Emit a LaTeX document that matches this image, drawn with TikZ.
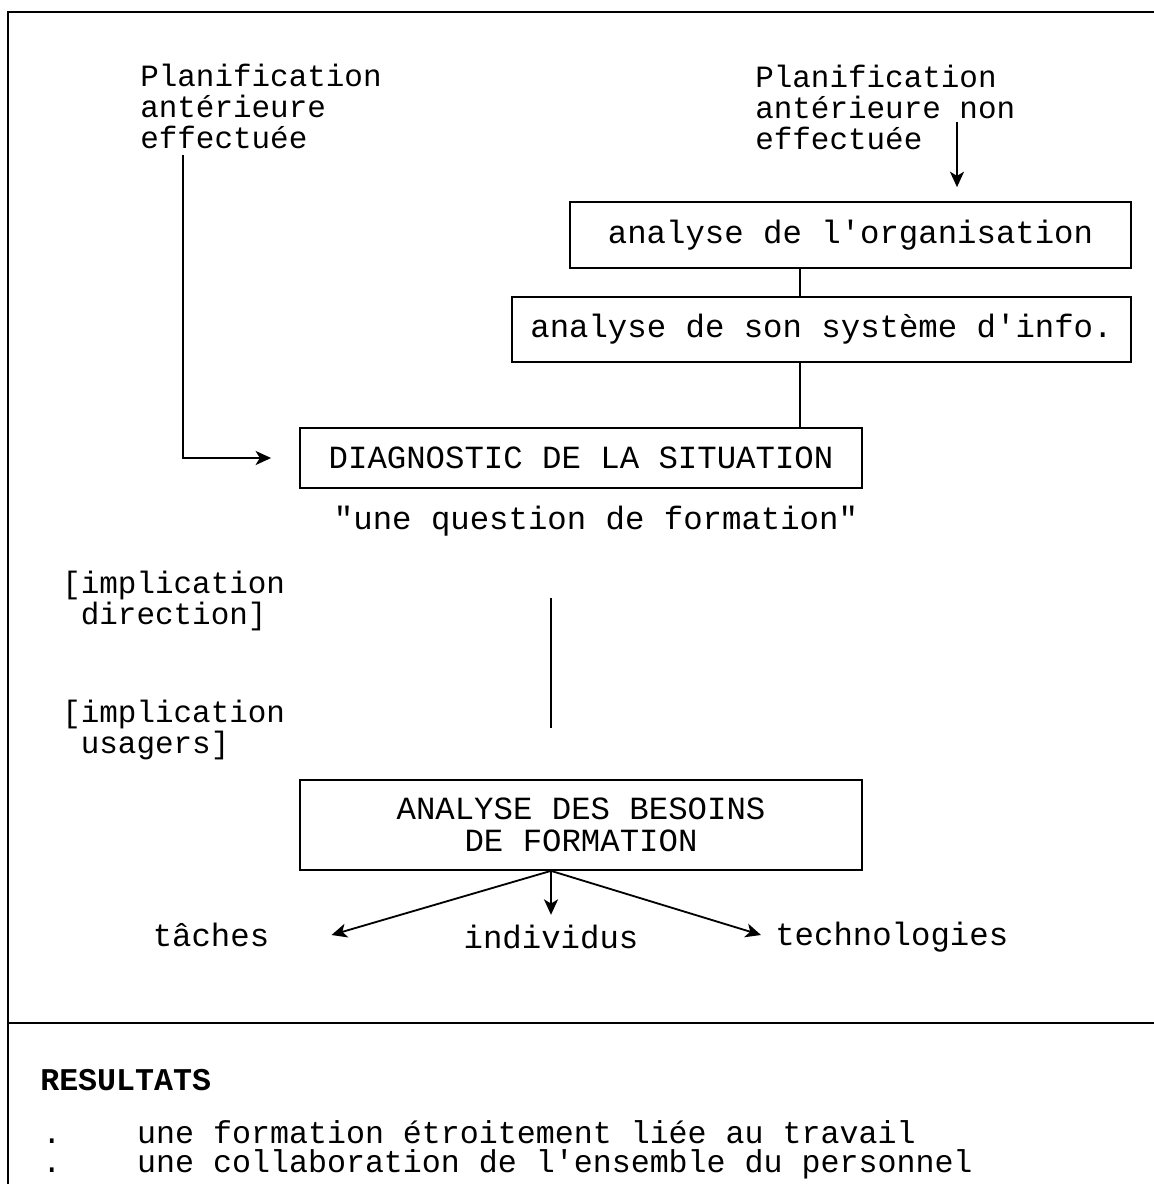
\documentclass[tikz,border=0pt]{standalone}
\usepackage{fontspec}
\setmonofont{Liberation Mono}
\usetikzlibrary{arrows.meta,positioning,calc}

\begin{document}
\begin{tikzpicture}[x=0.025cm,y=-0.025cm,
  boite/.style={draw,line width=1.2pt,minimum width=14.05cm,minimum height=1.5cm,
                font=\ttfamily\fontsize{23}{23}\selectfont,align=center,inner sep=0pt},
  etiq/.style={font=\ttfamily\fontsize{22}{22}\selectfont,align=left,
               inner sep=0pt,anchor=north west},
  mot/.style={font=\ttfamily\fontsize{23}{23}\selectfont,inner sep=0pt},
  trait/.style={line width=1.1pt},
  arr/.style={-{Stealth[length=11pt,width=10pt,inset=3pt]},line width=1.3pt}]
  \useasboundingbox (0,0) rectangle (1154,1184);
  % cadre
  \draw[line width=1.5pt] (8,1184) -- (8,12) -- (1154,12);
  \draw[line width=1.5pt] (8,1023) -- (1154,1023);
  % point de depart
  \node[etiq](plan1) at (140,64) {Planification\\antérieure\\effectuée};
  \node[etiq](plan2) at (755,65) {Planification\\antérieure non\\effectuée};
  % analyses
  \node[boite,minimum width=14.03cm,minimum height=1.65cm](orga) at (850.5,235)
    {analyse de l'organisation};
  \node[boite,minimum width=15.48cm,minimum height=1.63cm](syst) at (821.5,329.5)
    {analyse de son système d'info.};
  \node[boite](diag) at (581,458) {DIAGNOSTIC DE LA SITUATION};
  \node[mot](quest) at (596,521) {"une question de formation"};
  \coordinate (effL) at (183,155);
  \coordinate (effR) at (957,122);
  \coordinate (ax) at (800,0);
  \draw[arr](effR) -- ($(effR |- orga.north)+(0,-14)$);
  \draw[trait](ax |- orga.south) -- (ax |- syst.north);
  \draw[trait](ax |- syst.south) -- (ax |- diag.north);
  \draw[arr](effL) |- ($(diag.west)+(-28,0)$);
  % implications
  \node[etiq](impl1) at (62,571) {[implication\\\phantom{[}direction]};
  \node[etiq](impl2) at (62,700) {[implication\\\phantom{[}usagers]};
  \coordinate (vh) at (551,598);
  \coordinate (vb) at (551,728);
  \draw[line width=1.4pt](vh) -- (vb);
  % besoins
  \node[boite,minimum height=2.25cm](besoins) at (581,825)
    {ANALYSE DES BESOINS\\DE FORMATION};
  \node[mot](tach) at (211,935) {tâches};
  \node[mot](indiv) at (551,937) {individus};
  \node[mot,anchor=west](techno) at (775,937) {technologies};
  \coordinate (src) at ($(besoins.south)+(-30,0)$);
  \draw[arr](src) -- ($(indiv.north)+(0,-10)$);
  \draw[arr](src) -- ($(tach.east)+(62,0)$);
  \draw[arr](src) -- ($(techno.west)+(-14,-2)$);
  % resultats
  \node[mot,anchor=west,font=\ttfamily\bfseries\fontsize{22.5}{22.5}\selectfont]
    (res) at (40,1080) {RESULTATS};
  \node[etiq,font=\ttfamily\fontsize{22.5}{20.5}\selectfont](liste) at (42,1120)
    {.\ \ \ \ une formation étroitement liée au travail\\
     .\ \ \ \ une collaboration de l'ensemble du personnel};
\end{tikzpicture}
\end{document}
